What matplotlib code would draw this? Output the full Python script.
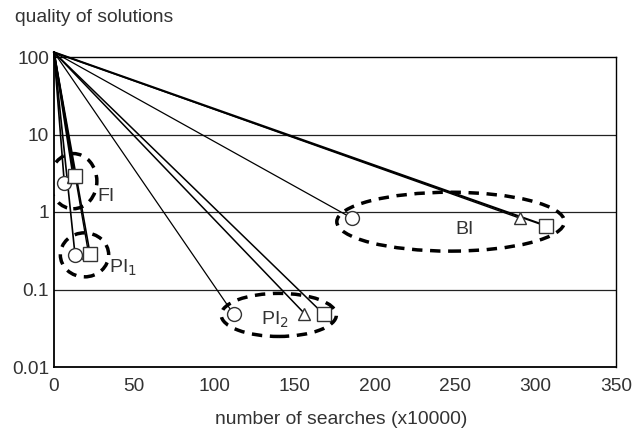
import numpy as np
import matplotlib.pyplot as plt
from matplotlib.patches import Ellipse

#%% Chart appearance
plt.rcParams['font.family'] = ['Liberation Sans', 'DejaVu Sans']
plt.rcParams['text.color'] = '#333333'
plt.rcParams['xtick.color'] = '#333333'
plt.rcParams['ytick.color'] = '#333333'

#%% Data
groups = ['FI', 'PI$_1$', 'PI$_2$', 'BI']
start_x, start_y = 0, 115

circle_x = [6.4, 13.1, 111.9, 185.7]
circle_y = [2.4, 0.28, 0.048, 0.83]
tri_x = [12.0, 21.4, 156.0, 290.3]
tri_y = [2.85, 0.30, 0.049, 0.83]
sq_x = [12.9, 22.5, 168.0, 306.7]
sq_y = [2.9, 0.285, 0.048, 0.66]

x_ticks = [0, 50, 100, 150, 200, 250, 300, 350]
y_ticks = [0.01, 0.1, 1, 10, 100]
y_tick_labels = ['0.01', '0.1', '1', '10', '100']

# label positions and ellipse centre / size (axes fraction) per group
label_x = [27, 34, 129, 250]
label_y = [1.6, 0.19, 0.041, 0.6]
ell_x = [12, 19, 140, 247]
ell_y = [2.5, 0.28, 0.047, 0.75]
ell_w = [0.084, 0.086, 0.205, 0.405]
ell_h = [0.178, 0.142, 0.139, 0.19]

#%% Plot
fig = plt.figure(figsize=(6.38, 4.29), dpi=100)
ax = fig.add_axes([54 / 638, 1 - 367 / 429, (616 - 54) / 638, 310 / 429])
ax.set_yscale('log')
ax.set_xlim(0, 350)
ax.set_ylim(0.01, 100)

for yv in [0.1, 1, 10]:
    ax.axhline(yv, color='#222222', lw=0.9, zorder=1)

# lines from the start point to every result
line_w = {'c': [1.2, 1.2, 0.9, 0.9], 't': [1.4, 1.0, 1.1, 1.0], 's': [1.4, 1.2, 1.1, 1.5]}
for xs, ys, key in [(circle_x, circle_y, 'c'), (tri_x, tri_y, 't'), (sq_x, sq_y, 's')]:
    for i in range(len(xs)):
        ax.plot([start_x, xs[i]], [start_y, ys[i]], color='black',
                lw=line_w[key][i], clip_on=False, zorder=2)

ax.plot(circle_x, circle_y, 'o', ms=10, mfc='white', mec='#333333', mew=1, ls='none', zorder=3)
ax.plot(tri_x, tri_y, '^', ms=9, mfc='white', mec='#333333', mew=1, ls='none', zorder=3)
ax.plot(sq_x, sq_y, 's', ms=10, mfc='white', mec='#333333', mew=1, ls='none', zorder=3)

for i, g in enumerate(groups):
    ax.text(label_x[i], label_y[i], g, fontsize=14, ha='left', va='center', zorder=4)
    fx = ell_x[i] / 350
    fy = (np.log10(ell_y[i]) + 2) / 4
    ax.add_patch(Ellipse((fx, fy), ell_w[i], ell_h[i], transform=ax.transAxes,
                         fill=False, ec='black', lw=2.5, ls=(0, (3, 2.2)), zorder=4))

ax.set_xticks(x_ticks)
ax.set_yticks(y_ticks)
ax.set_yticklabels(y_tick_labels)
ax.minorticks_off()
ax.tick_params(length=0, labelsize=13.8)
ax.tick_params(axis='x', pad=8)
ax.tick_params(axis='y', pad=3.5)
for s in ['left', 'bottom']:
    ax.spines[s].set_linewidth(1.3)
for s in ['top', 'right']:
    ax.spines[s].set_linewidth(1.0)

fig.text(341 / 638, 1 - 419 / 429, 'number of searches (x10000)', fontsize=13.9,
         ha='center', va='center')
fig.text(15 / 638, 1 - 17 / 429, 'quality of solutions', fontsize=13.9, ha='left', va='center')

fig.savefig('out.png', dpi=100)
